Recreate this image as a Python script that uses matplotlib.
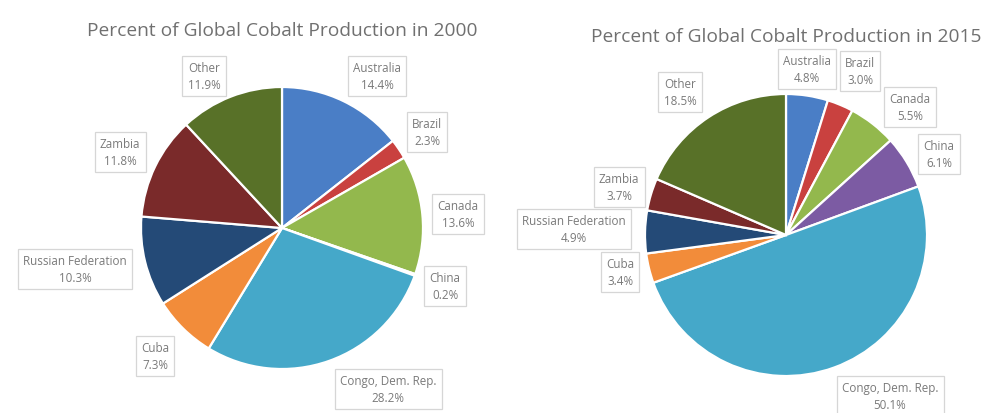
import matplotlib
matplotlib.use("Agg")
import matplotlib.pyplot as plt

countries = ["Australia", "Brazil", "Canada", "China", "Congo, Dem. Rep.",
             "Cuba", "Russian Federation", "Zambia", "Other"]
share_2000 = [14.4, 2.3, 13.6, 0.2, 28.2, 7.3, 10.3, 11.8, 11.9]
share_2015 = [4.8, 3.0, 5.5, 6.1, 50.1, 3.4, 4.9, 3.7, 18.5]

colors = ["#4a7ec6", "#c9413f", "#93b84d", "#7c5ba3", "#45a8c9",
          "#f28c3a", "#244a77", "#7a2a2a", "#587128"]

W, H = 997, 414

# label box centres in pixel coords (x from left, y from top)
pos_2000 = [(377, 77), (427, 133), (458, 215), (445, 287), (388, 390),
            (155, 357), (75, 270), (120, 153), (204, 77)]
pos_2015 = [(807, 70), (860, 72), (910, 108), (939, 155), (890, 397),
            (620, 273), (574, 230), (619, 188), (680, 93)]

plt.rcParams['font.family'] = ['Open Sans', 'DejaVu Sans']

fig = plt.figure(figsize=(W / 100, H / 100), dpi=100)
ax = fig.add_axes([0, 0, 1, 1])


def draw_pie(values, center, radius, label_pos, title, title_xy):
    ax.pie(values, colors=colors, startangle=90, counterclock=False,
           center=(center[0], H - center[1]), radius=radius,
           wedgeprops=dict(edgecolor="white", linewidth=1.6))
    for name, val, (x, y) in zip(countries, values, label_pos):
        ax.text(x, H - y, f"{name}\n{val:.1f}%", ha="center", va="center",
                fontsize=8.4, color="#7a7a7a", linespacing=1.35,
                bbox=dict(boxstyle="square,pad=0.45", fc="white",
                          ec="#d6d6d6", lw=0.9))
    ax.text(title_xy[0], H - title_xy[1], title, ha="center", va="center",
            fontsize=13.8, color="#707070")


draw_pie(share_2000, (282, 229), 141, pos_2000,
         "Percent of Global Cobalt Production in 2000", (282, 31))
draw_pie(share_2015, (786, 236), 141, pos_2015,
         "Percent of Global Cobalt Production in 2015", (786, 37))

ax.set_xlim(0, W)
ax.set_ylim(0, H)
ax.set_aspect("equal")
ax.axis("off")

fig.savefig("out.png", dpi=100)
